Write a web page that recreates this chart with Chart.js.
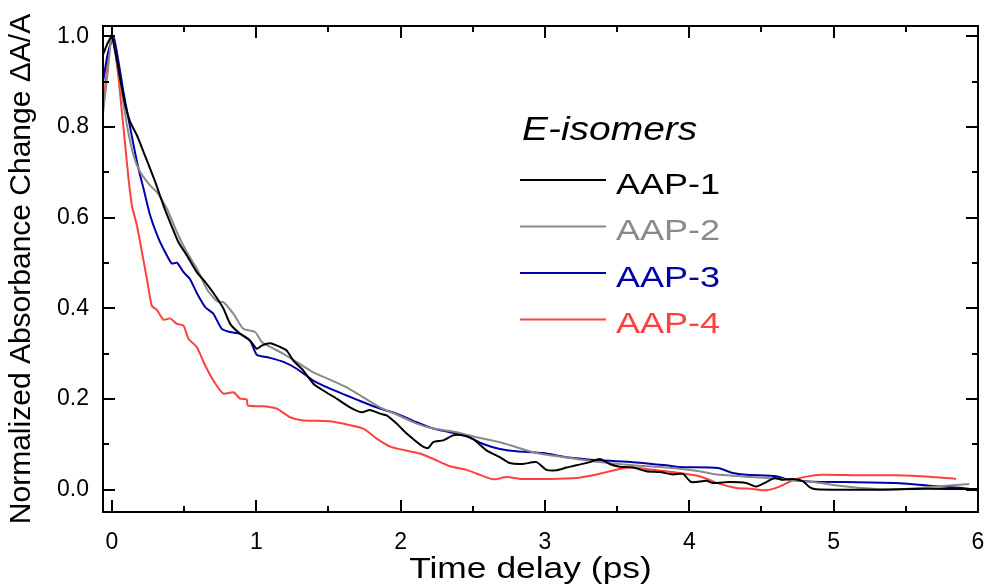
<!DOCTYPE html>
<html><head><meta charset="utf-8">
<script src="https://cdn.jsdelivr.net/npm/chart.js@4/dist/chart.umd.min.js"></script>
<style>html,body{margin:0;padding:0;background:#fff;overflow:hidden}</style>
</head><body>
<canvas id="c" width="986" height="587" style="display:block;width:986px;height:587px"></canvas>
<script>
// ---- data ----
const seriesNames = ['AAP-1', 'AAP-2', 'AAP-3', 'AAP-4'];
const legendTitle = 'E-isomers';
const xAxisTitle = 'Time delay (ps)';
const yAxisTitle = 'Normalized Absorbance Change \u0394A/A';
const xTickValues = [0, 1, 2, 3, 4, 5, 6];
const xTickLabels = ['0', '1', '2', '3', '4', '5', '6'];
const yTickValues = [0, 0.2, 0.4, 0.6, 0.8, 1.0];
const yTickLabels = ['0.0', '0.2', '0.4', '0.6', '0.8', '1.0'];

const aap1X = [-0.062,-0.03,0.0,0.057,0.092,0.127,0.173,0.219,0.265,0.30,0.357,0.403,0.461,0.519,0.588,0.634,0.703,0.772,0.819,0.888,0.957,1.003,1.038,1.096,1.165,1.211,1.257,1.326,1.395,1.464,1.557,1.649,1.730,1.787,1.857,1.903,1.972,2.042,2.087,2.156,2.191,2.226,2.295,2.364,2.433,2.502,2.595,2.687,2.756,2.848,2.941,3.01,3.08,3.149,3.218,3.31,3.379,3.448,3.518,3.61,3.702,3.795,3.887,3.956,4.014,4.118,4.163,4.279,4.394,4.464,4.533,4.591,4.648,4.717,4.786,4.833,4.879,5.086,5.317,5.547,5.779,6.0];
const aap1Y = [0.96,0.985,1.0,0.907,0.848,0.811,0.782,0.745,0.708,0.679,0.627,0.590,0.546,0.517,0.48,0.463,0.434,0.40,0.366,0.344,0.329,0.311,0.318,0.323,0.315,0.307,0.285,0.263,0.234,0.219,0.201,0.182,0.171,0.176,0.168,0.164,0.146,0.124,0.112,0.095,0.092,0.105,0.109,0.120,0.120,0.112,0.087,0.072,0.059,0.057,0.061,0.044,0.043,0.049,0.054,0.061,0.068,0.057,0.051,0.049,0.041,0.039,0.034,0.035,0.017,0.020,0.015,0.017,0.015,0.007,0.017,0.026,0.022,0.024,0.019,0.006,0.001,0.0,0.0,0.002,0.002,0.002];

const aap2X = [-0.062,-0.03,0.0,0.057,0.104,0.150,0.196,0.265,0.311,0.381,0.45,0.519,0.588,0.657,0.727,0.772,0.842,0.911,0.992,1.038,1.096,1.188,1.280,1.395,1.511,1.626,1.741,1.857,1.972,2.111,2.226,2.388,2.526,2.687,2.803,2.918,3.033,3.149,3.379,3.61,3.841,4.071,4.163,4.394,4.625,4.856,5.086,5.317,5.432,5.663,5.94];
const aap2Y = [0.83,0.92,1.0,0.899,0.804,0.737,0.701,0.671,0.657,0.620,0.568,0.524,0.488,0.443,0.416,0.414,0.388,0.355,0.348,0.326,0.315,0.300,0.282,0.259,0.243,0.226,0.204,0.182,0.166,0.146,0.135,0.127,0.116,0.105,0.094,0.083,0.076,0.071,0.061,0.054,0.049,0.041,0.035,0.029,0.024,0.017,0.007,0.001,0.0,0.006,0.013];

const aap3X = [-0.062,-0.03,0.01,0.046,0.080,0.115,0.150,0.184,0.219,0.265,0.323,0.369,0.415,0.45,0.496,0.542,0.588,0.646,0.703,0.761,0.819,0.888,0.957,1.003,1.096,1.188,1.280,1.395,1.511,1.626,1.741,1.857,1.972,2.111,2.226,2.342,2.457,2.572,2.687,2.803,2.987,3.149,3.379,3.61,3.841,3.933,4.198,4.302,4.394,4.602,4.694,4.856,5.086,5.432,5.663,5.893,6.0];
const aap3Y = [0.90,0.96,1.0,0.943,0.877,0.818,0.760,0.708,0.664,0.605,0.554,0.524,0.499,0.501,0.48,0.464,0.434,0.403,0.388,0.355,0.348,0.344,0.329,0.298,0.291,0.282,0.267,0.241,0.223,0.208,0.193,0.179,0.168,0.149,0.135,0.127,0.118,0.101,0.090,0.085,0.081,0.072,0.065,0.061,0.054,0.050,0.048,0.037,0.033,0.030,0.022,0.018,0.017,0.015,0.009,0.004,-0.001];

const aap4X = [-0.062,-0.03,0.0,0.023,0.046,0.069,0.092,0.115,0.138,0.173,0.208,0.242,0.277,0.311,0.357,0.403,0.45,0.496,0.53,0.588,0.646,0.703,0.772,0.842,0.888,0.934,0.941,1.049,1.142,1.234,1.326,1.511,1.741,1.834,1.938,2.134,2.226,2.341,2.457,2.549,2.642,2.734,2.826,3.033,3.218,3.333,3.426,3.518,3.61,3.748,3.887,4.071,4.21,4.325,4.44,4.533,4.625,4.717,4.810,4.925,5.156,5.432,5.663,5.848];
const aap4Y = [0.84,0.94,1.0,0.965,0.907,0.833,0.760,0.686,0.627,0.583,0.524,0.465,0.405,0.397,0.375,0.378,0.366,0.362,0.333,0.315,0.274,0.241,0.212,0.215,0.201,0.199,0.186,0.184,0.179,0.160,0.153,0.151,0.135,0.113,0.094,0.080,0.068,0.052,0.044,0.033,0.023,0.028,0.024,0.024,0.026,0.032,0.039,0.046,0.049,0.044,0.039,0.030,0.013,0.004,0.002,-0.001,0.007,0.021,0.029,0.033,0.032,0.032,0.029,0.024];

// ---- styling ----
const seriesColors = ['#000000', '#8a8a8a', '#0000a8', '#ff4040'];
const FONT = '"Liberation Sans", Arial, sans-serif';
const STRETCH = 1.18;

const xs = [aap1X, aap2X, aap3X, aap4X];
const ys = [aap1Y, aap2Y, aap3Y, aap4Y];
const datasets = seriesNames.map((name, i) => ({
  label: name,
  data: xs[i].map((x, k) => ({x: x, y: ys[i][k]})),
  borderColor: seriesColors[i],
  borderWidth: 2,
  pointRadius: 0,
  tension: 0.2,
  fill: false
}));

const frameTicks = {
  id: 'frameTicks',
  afterDatasetsDraw(chart) {
    const {ctx, chartArea: a, scales: {x, y}} = chart;
    ctx.save();
    ctx.strokeStyle = '#000';
    ctx.lineWidth = 2;
    ctx.strokeRect(a.left, a.top, a.right - a.left, a.bottom - a.top);
    ctx.beginPath();
    const xAll = [];
    xTickValues.forEach((v, i) => {
      xAll.push([v, 12]);
      if (i < xTickValues.length - 1) xAll.push([(v + xTickValues[i + 1]) / 2, 6]);
    });
    xAll.forEach(([v, len]) => {
      const p = Math.round(x.getPixelForValue(v));
      if (p < a.left + 1 || p > a.right - 1) return;
      ctx.moveTo(p, a.bottom); ctx.lineTo(p, a.bottom - len);
      ctx.moveTo(p, a.top); ctx.lineTo(p, a.top + len);
    });
    const yAll = [];
    yTickValues.forEach((v, i) => {
      yAll.push([v, 12]);
      if (i < yTickValues.length - 1) yAll.push([(v + yTickValues[i + 1]) / 2, 6]);
    });
    yAll.forEach(([v, len]) => {
      const p = Math.round(y.getPixelForValue(v));
      ctx.moveTo(a.left, p); ctx.lineTo(a.left + len, p);
      ctx.moveTo(a.right, p); ctx.lineTo(a.right - len, p);
    });
    ctx.stroke();
    ctx.restore();
  },
  afterDraw(chart) {
    const {ctx} = chart;
    ctx.save();
    ctx.textBaseline = 'alphabetic';
    ctx.textAlign = 'left';
    // x axis title
    ctx.font = '30px ' + FONT;
    ctx.fillStyle = '#000';
    const w = ctx.measureText(xAxisTitle).width * STRETCH;
    ctx.save();
    ctx.translate(530.5 - w / 2, 578);
    ctx.scale(STRETCH, 1);
    ctx.fillText(xAxisTitle, 0, 0);
    ctx.restore();
    // legend title
    ctx.font = 'italic 33px ' + FONT;
    ctx.save();
    ctx.translate(522, 140);
    ctx.scale(STRETCH, 1);
    ctx.fillText(legendTitle, 0, 0);
    ctx.restore();
    // legend entries
    const rowY = [180, 226.5, 273, 319.5];
    chart.data.datasets.forEach((ds, i) => {
      ctx.strokeStyle = ds.borderColor;
      ctx.lineWidth = 2;
      ctx.beginPath();
      ctx.moveTo(520, rowY[i]); ctx.lineTo(606, rowY[i]);
      ctx.stroke();
      ctx.fillStyle = ds.borderColor;
      ctx.font = '30px ' + FONT;
      ctx.save();
      ctx.translate(616, rowY[i] + 13.5);
      ctx.scale(1.2, 1);
      ctx.fillText(ds.label, 0, 0);
      ctx.restore();
    });
    ctx.restore();
  }
};

Chart.defaults.color = '#000';
Chart.defaults.font.family = FONT;

new Chart(document.getElementById('c'), {
  type: 'line',
  data: {datasets: datasets},
  options: {
    responsive: false,
    animation: false,
    devicePixelRatio: 1,
    layout: {padding: {top: 26, right: 8, left: 0, bottom: 0}},
    plugins: {legend: {display: false}, tooltip: {enabled: false}},
    scales: {
      x: {
        type: 'linear',
        min: -0.062, max: 6.0,
        grid: {display: false, drawTicks: false},
        border: {display: false},
        afterBuildTicks: s => { s.ticks = xTickValues.map(v => ({value: v})); },
        afterFit: s => { s.height = 75; s.paddingLeft = 0; s.paddingRight = 0; },
        ticks: {
          padding: 17,
          font: {size: 23},
          maxRotation: 0,
          autoSkip: false,
          callback: (v) => { const i = xTickValues.indexOf(v); return i >= 0 ? xTickLabels[i] : ''; }
        }
      },
      y: {
        type: 'linear',
        min: -0.049, max: 1.023,
        grid: {display: false, drawTicks: false},
        border: {display: false},
        afterBuildTicks: s => { s.ticks = yTickValues.map(v => ({value: v})); },
        afterFit: s => { s.width = 103; s.paddingTop = 0; s.paddingBottom = 0; },
        title: {display: true, text: yAxisTitle, font: {size: 30}, padding: {top: 4, bottom: 0}},
        ticks: {
          padding: 14,
          font: {size: 23},
          autoSkip: false,
          callback: (v) => { const i = yTickValues.findIndex(t => Math.abs(t - v) < 1e-9); return i >= 0 ? yTickLabels[i] : ''; }
        }
      }
    }
  },
  plugins: [frameTicks]
});
</script>
</body></html>
